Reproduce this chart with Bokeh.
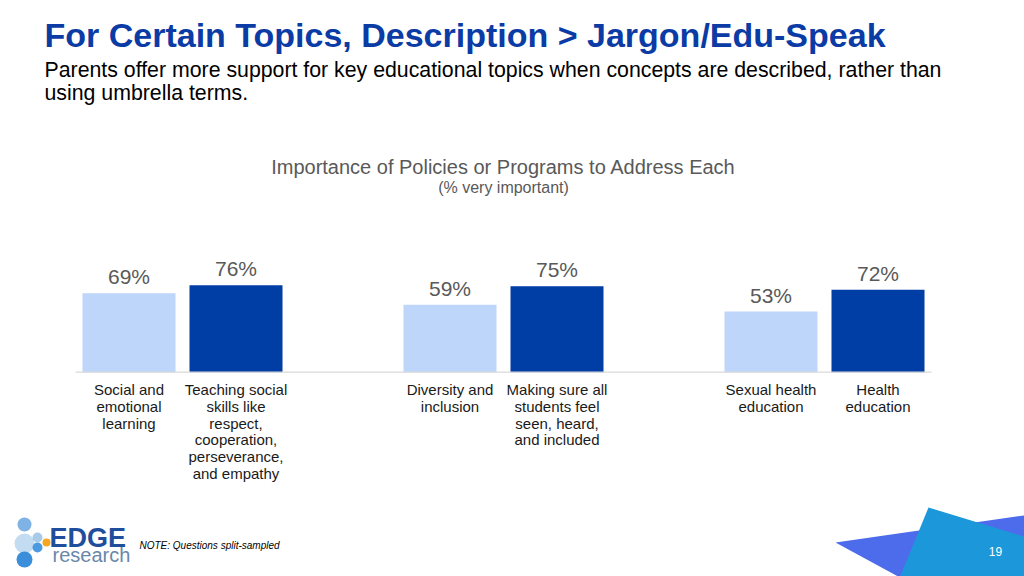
from bokeh.plotting import figure
from bokeh.models import Range1d, ColumnDataSource
from bokeh.core.properties import value
from bokeh.embed import file_html
from bokeh.resources import INLINE

# ---------------- data ----------------
groups = ["Social-emotional", "Diversity", "Health"]
categories = [
    "Social and\nemotional\nlearning",
    "Teaching social\nskills like\nrespect,\ncooperation,\nperseverance,\nand empathy",
    "Diversity and\ninclusion",
    "Making sure all\nstudents feel\nseen, heard,\nand included",
    "Sexual health\neducation",
    "Health\neducation",
]
term_type = ["umbrella", "described", "umbrella", "described", "umbrella", "described"]
values = [69, 76, 59, 75, 53, 72]

title_text = "For Certain Topics, Description > Jargon/Edu-Speak"
subtitle_lines = [
    "Parents offer more support for key educational topics when concepts are described, rather than",
    "using umbrella terms.",
]
chart_title = "Importance of Policies or Programs to Address Each"
chart_subtitle = "(% very important)"
note_text = "NOTE:  Questions split-sampled"
page_number = "19"

# ---------------- layout ----------------
W, H = 1024, 576
FONT = "Liberation Sans"
LIGHT = "#BDD6FA"
DARK = "#003DA5"
GRAY = "#595959"

UNIT = 107.0          # px per category slot
X0 = 75.0             # x of slot 0
PX_PER_PCT = 1.145
BASE = 371.7          # y of baseline


def dx(px):
    return (px - X0) / UNIT


def dy(py):
    return (BASE - py) / PX_PER_PCT


xs = [gi * 3 + j + 0.5 for gi in range(len(groups)) for j in range(2)]
colors = [LIGHT if t == "umbrella" else DARK for t in term_type]
labels = [f"{v}%" for v in values]

src = ColumnDataSource(dict(x=xs, top=values, color=colors, label=labels, cat=categories))

p = figure(width=W, height=H, output_backend="svg", toolbar_location=None,
           x_range=Range1d(dx(0), dx(W)), y_range=Range1d(dy(H), dy(0)),
           min_border=0, outline_line_color=None)
p.xaxis.visible = False
p.yaxis.visible = False
p.grid.visible = False
p.background_fill_color = "white"
p.border_fill_color = "white"

p.vbar(x="x", top="top", bottom=0, width=93 / UNIT, color="color", line_color=None, source=src)

# baseline
p.segment(x0=[0], x1=[len(groups) * 3 - 1], y0=[0], y1=[0], line_color="#D9D9D9", line_width=1.2)

p.text(x="x", y="top", text="label", source=src, text_align="center", text_baseline="bottom",
       y_offset=-5, text_font=value(FONT), text_font_size="21px", text_color=GRAY)
p.text(x="x", y=0, text="cat", source=src, text_align="center", text_baseline="top",
       y_offset=9, text_font=value(FONT), text_font_size="15px", text_color="#1a1a1a",
       text_line_height=0.985)


def add_text(px, py, text, size, color, style="normal", align="left"):
    # py is the vertical centre of the capitals
    p.text(x=[dx(px)], y=[dy(py)], text=[text], text_font=value(FONT), text_font_style=style,
           text_font_size=size, text_color=color, text_align=align, text_baseline="middle")


# decorations first (behind the page number)
shape_a = [(835, 542), (1030, 514), (1030, 580), (905, 580)]
shape_b = [(928, 507), (1030, 538), (1030, 580), (898, 580)]
p.patches(xs=[[dx(a) for a, b in shape_a], [dx(a) for a, b in shape_b]],
          ys=[[dy(b) for a, b in shape_a], [dy(b) for a, b in shape_b]],
          color=["#4C6CEB", "#1C98DA"], line_color=None)

# titles
add_text(44, 34.5, title_text, "34px", "#0B3BA5", style="bold")
add_text(44, 69, subtitle_lines[0], "21.3px", "#000000")
add_text(44, 92, subtitle_lines[1], "21.3px", "#000000")
add_text(503, 166.5, chart_title, "20px", GRAY, align="center")
add_text(503, 187, chart_subtitle, "16px", GRAY, align="center")

# logo
logo_x = [24, 24, 37, 37, 46, 24]
logo_y = [524, 543, 537, 547, 542, 559]
logo_d = [14, 20, 10, 10, 8, 16]
logo_c = ["#7FB2E5", "#C4DCF2", "#A9CBEA", "#4C9BE0", "#F5A623", "#3B8FDA"]
p.scatter(x=[dx(v) for v in logo_x], y=[dy(v) for v in logo_y], size=logo_d, color=logo_c,
          line_color=None)
add_text(49, 537, "EDGE", "27px", "#1F4E9C", style="bold")
add_text(52, 554, "research", "20px", "#6A87A8")
add_text(139, 545, note_text, "10px", "#000000", style="italic")
add_text(995, 551, page_number, "12px", "white", align="center")

open("out.html", "w").write(file_html(p, INLINE))
